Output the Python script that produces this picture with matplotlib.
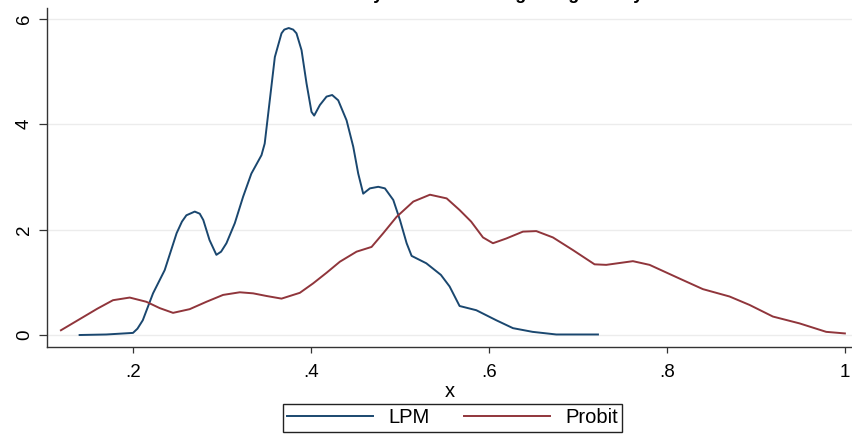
import matplotlib.pyplot as plt

plt.rcParams['font.family'] = ['Liberation Sans', 'DejaVu Sans']

# Kernel density of fitted values, one curve per model
lpm_x = [0.140, 0.170, 0.200, 0.205, 0.211, 0.2225, 0.2356, 0.249, 0.255, 0.260,
         0.2694, 0.275, 0.279, 0.286, 0.2937, 0.299, 0.305, 0.3144, 0.3237, 0.333,
         0.3444, 0.348, 0.3537, 0.3594, 0.3669, 0.370, 0.375, 0.380, 0.3837, 0.3894,
         0.395, 0.4006, 0.4036, 0.410, 0.4175, 0.4238, 0.4306, 0.440, 0.4475, 0.4531,
         0.4587, 0.4662, 0.4756, 0.4831, 0.4925, 0.500, 0.5075, 0.5131, 0.5296, 0.546,
         0.5558, 0.567, 0.5858, 0.6082, 0.627, 0.649, 0.6757, 0.7225]
lpm_y = [0.00, 0.01, 0.04, 0.12, 0.28, 0.79, 1.23, 1.93, 2.15, 2.27,
         2.34, 2.30, 2.18, 1.80, 1.52, 1.58, 1.74, 2.12, 2.62, 3.06,
         3.41, 3.63, 4.45, 5.27, 5.72, 5.79, 5.82, 5.79, 5.72, 5.40,
         4.77, 4.23, 4.16, 4.36, 4.52, 4.55, 4.45, 4.07, 3.57, 3.06,
         2.68, 2.78, 2.81, 2.78, 2.56, 2.18, 1.74, 1.50, 1.36, 1.14,
         0.92, 0.55, 0.47, 0.28, 0.13, 0.06, 0.01, 0.01]

probit_x = [0.119, 0.140, 0.160, 0.1775, 0.1963, 0.215, 0.230, 0.245, 0.2637, 0.2825,
            0.3012, 0.320, 0.335, 0.350, 0.3669, 0.3875, 0.4025, 0.4175, 0.4325, 0.4512,
            0.4681, 0.4812, 0.4962, 0.515, 0.5337, 0.5525, 0.567, 0.580, 0.5933, 0.6045,
            0.6195, 0.6382, 0.6532, 0.6719, 0.6944, 0.7187, 0.7318, 0.7618, 0.7805, 0.8142,
            0.8404, 0.8704, 0.8929, 0.9191, 0.9491, 0.979, 1.000]
probit_y = [0.09, 0.30, 0.50, 0.66, 0.71, 0.63, 0.51, 0.42, 0.49, 0.63,
            0.76, 0.81, 0.79, 0.74, 0.69, 0.80, 0.98, 1.18, 1.39, 1.58,
            1.67, 1.93, 2.24, 2.53, 2.66, 2.59, 2.37, 2.15, 1.85, 1.74,
            1.83, 1.96, 1.97, 1.85, 1.61, 1.34, 1.33, 1.40, 1.33, 1.07,
            0.87, 0.73, 0.57, 0.35, 0.22, 0.06, 0.03]

x_ticks = [0.2, 0.4, 0.6, 0.8, 1.0]
x_ticklabels = ['.2', '.4', '.6', '.8', '1']
y_ticks = [0, 2, 4, 6]

fig = plt.figure(figsize=(8.52, 4.34), dpi=100)
ax = fig.add_axes([0.0548, 0.2005, 0.9452, 0.7811])

ax.plot(lpm_x, lpm_y, color='#1a476f', lw=1.4, label='LPM')
ax.plot(probit_x, probit_y, color='#90353b', lw=1.4, label='Probit')

ax.set_xlim(0.103, 1.008)
ax.set_ylim(-0.227, 6.2)
ax.set_xticks(x_ticks)
ax.set_xticklabels(x_ticklabels)
ax.set_yticks(y_ticks)
for lab in ax.get_yticklabels():
    lab.set_rotation(90)
    lab.set_va('center')
ax.tick_params(axis='both', labelsize=13.5, color='#333333', width=0.9)
ax.tick_params(axis='x', length=4, pad=8)
ax.tick_params(axis='y', length=6, pad=4)
ax.grid(axis='y', color='#ececec', lw=1.0)
ax.set_axisbelow(True)
for side in ('top', 'right'):
    ax.spines[side].set_visible(False)
for side in ('left', 'bottom'):
    ax.spines[side].set_color('#333333')
    ax.spines[side].set_linewidth(1.0)
ax.set_xlabel('x', fontsize=14.5, labelpad=1)

# title sits above the canvas, only its descenders reach the top edge
fig.text(0.53, 1.003, 'Predicted Probability of Default Using a Logit Fit by Model',
         ha='center', va='baseline', fontsize=13, fontweight='bold')

fig.legend(loc='center', bbox_to_anchor=(0.531, 0.0369), ncol=2, fontsize=14.5,
           frameon=True, fancybox=False, edgecolor='#222222', framealpha=1,
           handlelength=4.3, columnspacing=1.7, handletextpad=0.75,
           borderpad=0.2, borderaxespad=0)

fig.savefig('out.png', dpi=100)
